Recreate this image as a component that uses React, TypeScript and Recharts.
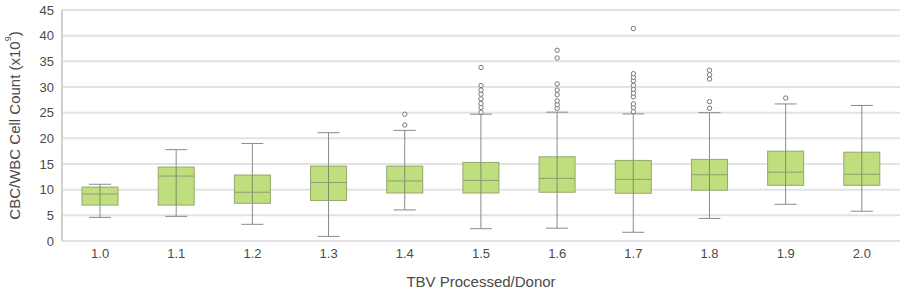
import {
  Bar,
  CartesianGrid,
  ComposedChart,
  Scatter,
  XAxis,
  YAxis,
} from 'recharts';

const categories = ['1.0', '1.1', '1.2', '1.3', '1.4', '1.5', '1.6', '1.7', '1.8', '1.9', '2.0'];
const whiskerLow = [4.6, 4.8, 3.25, 0.9, 6.05, 2.4, 2.5, 1.7, 4.4, 7.15, 5.8];
const quartile1 = [7.0, 7.0, 7.35, 7.9, 9.35, 9.35, 9.5, 9.3, 9.9, 10.85, 10.85];
const medians = [9.15, 12.65, 9.5, 11.4, 11.7, 11.8, 12.2, 12.0, 12.9, 13.4, 13.0];
const quartile3 = [10.5, 14.4, 12.85, 14.6, 14.6, 15.3, 16.4, 15.7, 15.9, 17.5, 17.3];
const whiskerHigh = [11.05, 17.8, 19.0, 21.1, 21.55, 24.7, 25.1, 24.75, 25.0, 26.7, 26.4];
const outliers: number[][] = [
  [],
  [],
  [],
  [],
  [22.6, 24.7],
  [25.1, 26.0, 26.8, 27.7, 28.6, 29.4, 30.3, 33.8],
  [25.85, 26.55, 27.3, 28.5, 29.4, 30.6, 35.65, 37.15],
  [25.2, 26.0, 26.7, 28.1, 28.8, 29.55, 30.3, 31.2, 31.9, 32.6, 41.4],
  [25.85, 27.15, 31.55, 32.4, 33.25],
  [27.85],
  [],
];
const yTicks = [0, 5, 10, 15, 20, 25, 30, 35, 40, 45];

type Row = { cat: string; lo: number; q1: number; med: number; q3: number; hi: number };

const rows: Row[] = categories.map((cat, i) => ({
  cat,
  lo: whiskerLow[i],
  q1: quartile1[i],
  med: medians[i],
  q3: quartile3[i],
  hi: whiskerHigh[i],
}));

const outlierPoints = categories.flatMap((cat, i) => outliers[i].map((v) => ({ cat, v })));

const textColor = '#4a4a4a';
const fontFamily = '"Liberation Sans", Arial, sans-serif';

function BoxShape(props: any) {
  const { x, y, width, height, payload } = props;
  const row = payload as Row;
  // the bar spans lo..hi, so map the other stats onto the same pixel range
  const k = height / (row.hi - row.lo);
  const toY = (v: number) => y + (row.hi - v) * k;
  const cx = x + width / 2;
  const cap = 11;
  return (
    <g>
      <line x1={cx} x2={cx} y1={y} y2={y + height} stroke="#8a8a8a" />
      <line x1={cx - cap} x2={cx + cap} y1={y} y2={y} stroke="#8a8a8a" />
      <line x1={cx - cap} x2={cx + cap} y1={y + height} y2={y + height} stroke="#8a8a8a" />
      <rect
        x={x}
        y={toY(row.q3)}
        width={width}
        height={toY(row.q1) - toY(row.q3)}
        fill="#c1de7e"
        stroke="#92a96a"
      />
      <line x1={cx} x2={cx} y1={toY(row.q3)} y2={toY(row.q1)} stroke="#7d8c66" />
      <line x1={x} x2={x + width} y1={toY(row.med)} y2={toY(row.med)} stroke="#8d9d72" />
    </g>
  );
}

function OutlierDot(props: any) {
  const { cx, cy } = props;
  if (cx == null || cy == null) return null;
  return <circle cx={cx} cy={cy} r={2.2} fill="#fff" stroke="#777" strokeWidth={1} />;
}

function YLabel(props: any) {
  const { viewBox } = props;
  const cy = viewBox.y + viewBox.height / 2;
  const cx = 14;
  return (
    <text
      x={cx}
      y={cy}
      transform={`rotate(-90, ${cx}, ${cy})`}
      textAnchor="middle"
      dominantBaseline="central"
      fill={textColor}
      fontSize={15}
      fontFamily={fontFamily}
    >
      CBC/WBC Cell Count (x10
      <tspan fontSize={9} dy={-6}>9</tspan>
      <tspan dy={6}>)</tspan>
    </text>
  );
}

export default function App() {
  return (
    <div style={{ position: 'absolute', left: 0, top: 0 }}>
      <ComposedChart
        width={900}
        height={296}
        data={rows}
        margin={{ top: 10, right: 0, bottom: 5, left: 0 }}
      >
        <CartesianGrid vertical={false} stroke="#e3e3e3" strokeWidth={2} />
        <XAxis
          dataKey="cat"
          type="category"
          allowDuplicatedCategory={false}
          axisLine={false}
          tickLine={false}
          height={50}
          tick={{ fill: textColor, fontSize: 13, fontFamily }}
          label={{
            value: 'TBV Processed/Donor',
            position: 'insideBottom',
            offset: 4,
            fill: textColor,
            fontSize: 15,
            fontFamily,
          }}
        />
        <YAxis
          type="number"
          domain={[0, 45]}
          ticks={yTicks}
          width={62}
          axisLine={{ stroke: '#d0d0d0', strokeWidth: 2 }}
          tickLine={false}
          tick={{ fill: textColor, fontSize: 13, fontFamily }}
          label={<YLabel />}
        />
        <Bar
          dataKey={(d: Row) => [d.lo, d.hi]}
          barSize={36}
          shape={<BoxShape />}
          isAnimationActive={false}
        />
        <Scatter
          data={outlierPoints}
          dataKey="v"
          shape={<OutlierDot />}
          isAnimationActive={false}
        />
      </ComposedChart>
    </div>
  );
}
